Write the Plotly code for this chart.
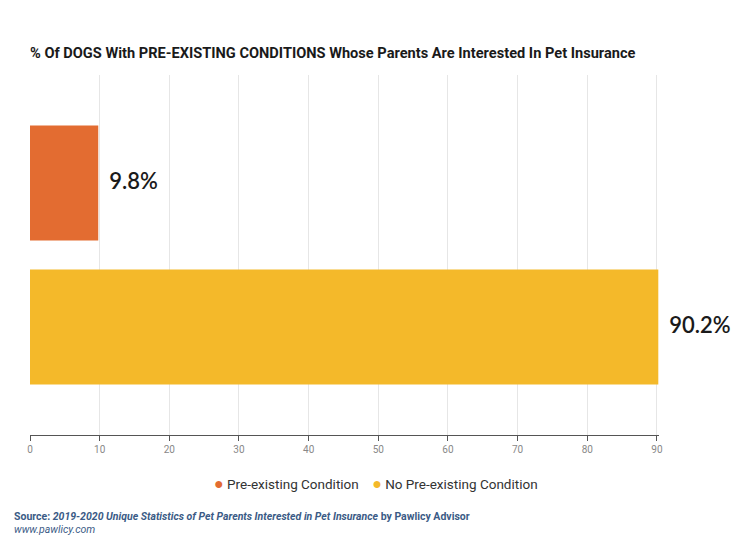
import plotly.graph_objects as go

series_names = ["Pre-existing Condition", "No Pre-existing Condition"]
series_values = [9.8, 90.2]
series_labels = ["9.8%", "90.2%"]
colors = ["#E36C31", "#F4B92A"]
tick_vals = [0, 10, 20, 30, 40, 50, 60, 70, 80, 90]

FONT_C = "Roboto, sans-serif"

fig = go.Figure()
fig.add_trace(go.Bar(
    y=series_names, x=series_values, orientation="h",
    marker=dict(color=colors, line=dict(width=0)),
    hoverinfo="x+y",
))
fig.add_trace(go.Scatter(
    y=series_names, x=series_values, mode="text",
    text=series_labels, texttemplate="\u00a0\u00a0%{text}", textposition="middle right",
    cliponaxis=False,
    textfont=dict(size=22, color="#1a1a1a", family="Lato, Roboto, sans-serif", weight=600),
    hoverinfo="skip",
))

legend_text = "    ".join(
    f"<span style='color:{c};font-size:16px'>●</span> {n}" for n, c in zip(series_names, colors)
)

fig.update_layout(
    width=750, height=540,
    paper_bgcolor="white", plot_bgcolor="white",
    margin=dict(l=30, r=91, t=75, b=105, autoexpand=False),
    bargap=0.2,
    showlegend=False,
    title=dict(
        text="<b>% Of DOGS With PRE-EXISTING CONDITIONS Whose Parents Are Interested In Pet Insurance</b>",
        x=30 / 750, xanchor="left", y=1 - 53 / 540, yanchor="middle",
        font=dict(size=14.6, color="#1a1a1a", family=FONT_C),
    ),
    xaxis=dict(
        range=[0, 90.3], tickvals=tick_vals, showgrid=True, gridcolor="#e6e6e6", gridwidth=1,
        showline=True, linecolor="#555555", linewidth=1,
        ticks="outside", ticklen=5, tickcolor="#555555",
        tickfont=dict(size=10, color="#888888", family=FONT_C),
        zeroline=False, fixedrange=True,
    ),
    yaxis=dict(range=[1.75, -0.75], showticklabels=False, showgrid=False, zeroline=False,
               showline=False, ticks="", fixedrange=True),
    annotations=[
        dict(text=legend_text, xref="paper", yref="paper", x=0.55, y=-48 / 360,
             xanchor="center", yanchor="middle", showarrow=False,
             font=dict(size=13.5, color="#333333", family=FONT_C)),
        dict(text="<b>Source: <i>2019-2020 Unique Statistics of Pet Parents Interested in Pet Insurance</i> by Pawlicy Advisor</b>",
             xref="paper", yref="paper", x=-18 / 629, y=-81 / 360, xanchor="left", yanchor="middle",
             showarrow=False,
             font=dict(size=10.5, color="#3b5b86", family=FONT_C)),
        dict(text="<i>www.pawlicy.com</i>",
             xref="paper", yref="paper", x=-18 / 629, y=-94 / 360, xanchor="left", yanchor="middle",
             showarrow=False,
             font=dict(size=10.5, color="#3b5b86", family=FONT_C)),
    ],
)

fig.write_html("out.html", config={"displayModeBar": False},
               post_script="document.body.style.margin='0';")
